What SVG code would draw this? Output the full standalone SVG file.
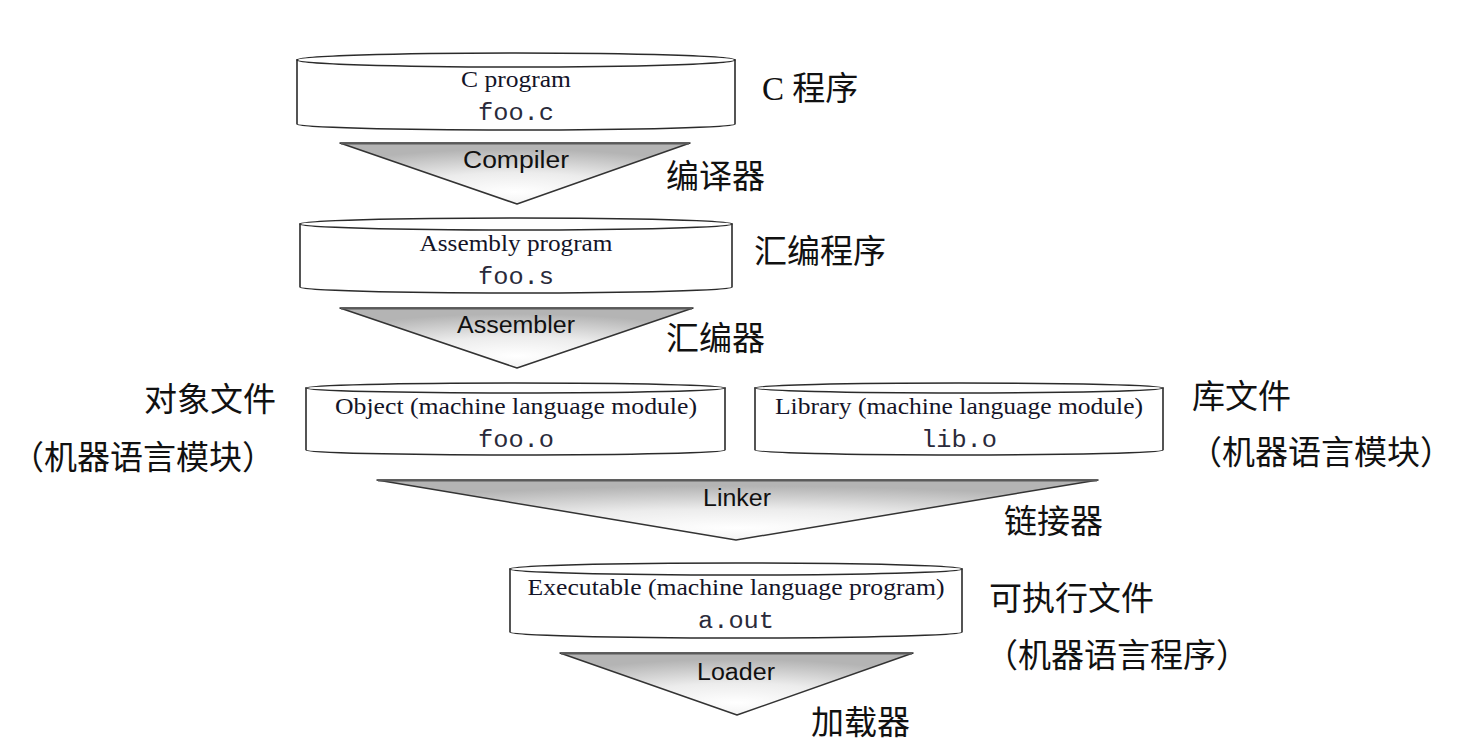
<svg xmlns="http://www.w3.org/2000/svg" width="1472" height="748" viewBox="0 0 1472 748">
<defs>
<radialGradient id="tri" cx="0.5" cy="0.8" r="0.7">
<stop offset="0" stop-color="#ffffff"/>
<stop offset="0.45" stop-color="#ececec"/>
<stop offset="1" stop-color="#b4b4b4"/>
</radialGradient>
<style>
.cyl{fill:#ffffff;stroke:#2b2b2b;stroke-width:1.6}
.tri{fill:url(#tri);stroke:#333333;stroke-width:1.5;stroke-linejoin:round}
.topline{stroke:#5a5a5a;stroke-width:2.2}
.serif{font-family:"Liberation Serif","Times New Roman",serif;font-size:23px;fill:#141428;text-anchor:middle}
.mono{font-family:"Liberation Mono","Courier New",monospace;font-size:23px;fill:#2a2a3a;text-anchor:middle}
.sans{font-family:"Liberation Sans",Arial,sans-serif;font-size:23px;fill:#111111;text-anchor:middle}
.cjk{font-family:"Noto Sans CJK SC","Noto Sans CJK JP",sans-serif;font-size:33px;fill:#111111}
.lat{font-family:"Liberation Serif","Times New Roman",serif}
</style>
</defs>
<rect width="1472" height="748" fill="#ffffff"/>

<g id="c-program">
<path class="cyl" d="M297,60 L297,124 A219,6 0 0 0 735,124 L735,60 Z"/>
<ellipse class="cyl" cx="516" cy="60" rx="219" ry="7"/>
<text class="serif" x="516" y="87" textLength="110" lengthAdjust="spacingAndGlyphs">C program</text>
<text class="mono" x="516" y="120" textLength="76" lengthAdjust="spacingAndGlyphs">foo.c</text>
</g>

<g id="assembly-program">
<path class="cyl" d="M300,224 L300,287 A216,6 0 0 0 732,287 L732,224 Z"/>
<ellipse class="cyl" cx="516" cy="224" rx="216" ry="6"/>
<text class="serif" x="516" y="251" textLength="193" lengthAdjust="spacingAndGlyphs">Assembly program</text>
<text class="mono" x="516" y="284" textLength="76" lengthAdjust="spacingAndGlyphs">foo.s</text>
</g>

<g id="object">
<path class="cyl" d="M306,388 L306,450 A209.5,5 0 0 0 725,450 L725,388 Z"/>
<ellipse class="cyl" cx="515.5" cy="388" rx="209.5" ry="5"/>
<text class="serif" x="516" y="414" textLength="362" lengthAdjust="spacingAndGlyphs">Object (machine language module)</text>
<text class="mono" x="516" y="447" textLength="76" lengthAdjust="spacingAndGlyphs">foo.o</text>
</g>

<g id="library">
<path class="cyl" d="M755,388 L755,450 A204,5 0 0 0 1163,450 L1163,388 Z"/>
<ellipse class="cyl" cx="959" cy="388" rx="204" ry="5"/>
<text class="serif" x="959" y="414" textLength="368" lengthAdjust="spacingAndGlyphs">Library (machine language module)</text>
<text class="mono" x="959" y="447" textLength="76" lengthAdjust="spacingAndGlyphs">lib.o</text>
</g>

<g id="executable">
<path class="cyl" d="M510,569 L510,632 A226,6 0 0 0 962,632 L962,569 Z"/>
<ellipse class="cyl" cx="736" cy="569" rx="226" ry="6"/>
<text class="serif" x="736" y="595" textLength="417" lengthAdjust="spacingAndGlyphs">Executable (machine language program)</text>
<text class="mono" x="736" y="628" textLength="76" lengthAdjust="spacingAndGlyphs">a.out</text>
</g>

<g id="connectors">
<g id="compiler">
<polygon class="tri" points="340,143 690,143 517,204"/>
<line class="topline" x1="341" y1="143.5" x2="689" y2="143.5"/>
<text class="sans" x="516" y="168" textLength="106" lengthAdjust="spacingAndGlyphs">Compiler</text>
</g>
<g id="assembler">
<polygon class="tri" points="340,308 693,308 517,368"/>
<line class="topline" x1="341" y1="308.5" x2="692" y2="308.5"/>
<text class="sans" x="516" y="333" textLength="118" lengthAdjust="spacingAndGlyphs">Assembler</text>
</g>
<g id="linker">
<polygon class="tri" points="377,480 1098,480 736,540"/>
<line class="topline" x1="378" y1="480.5" x2="1097" y2="480.5"/>
<text class="sans" x="737" y="506" textLength="68" lengthAdjust="spacingAndGlyphs">Linker</text>
</g>
<g id="loader">
<polygon class="tri" points="560,653 913,653 737,715"/>
<line class="topline" x1="561" y1="653.5" x2="912" y2="653.5"/>
<text class="sans" x="736" y="680" textLength="78" lengthAdjust="spacingAndGlyphs">Loader</text>
</g>
</g>

<g id="labels">
<text class="cjk" x="762" y="100"><tspan class="lat">C </tspan>程序</text>
<text class="cjk" x="666" y="188">编译器</text>
<text class="cjk" x="754" y="263">汇编程序</text>
<text class="cjk" x="666" y="350">汇编器</text>
<text class="cjk" x="144" y="411">对象文件</text>
<text class="cjk" x="11" y="469">（机器语言模块）</text>
<text class="cjk" x="1192" y="408">库文件</text>
<text class="cjk" x="1189" y="464">（机器语言模块）</text>
<text class="cjk" x="1004" y="533">链接器</text>
<text class="cjk" x="989" y="610">可执行文件</text>
<text class="cjk" x="985" y="667">（机器语言程序）</text>
<text class="cjk" x="811" y="734">加载器</text>
</g>
</svg>
